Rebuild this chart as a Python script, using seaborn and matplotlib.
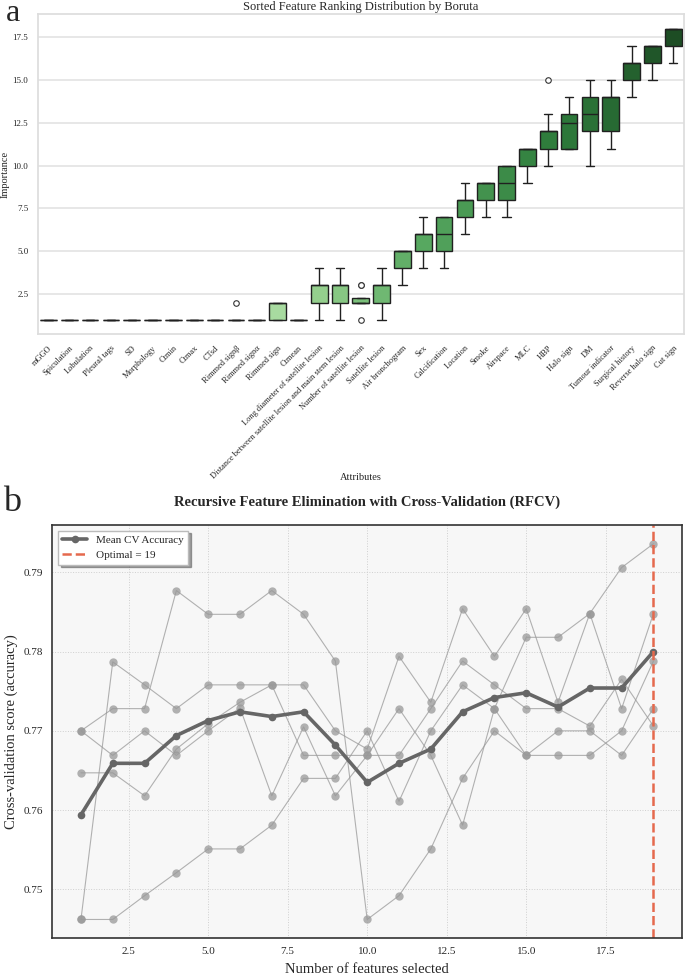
import numpy as np
import pandas as pd
import matplotlib
matplotlib.use("Agg")
import matplotlib.pyplot as plt
from matplotlib.colors import LinearSegmentedColormap
import seaborn as sns

# ---------------- data: panel a ----------------
features = ["mGGO", "Spiculation", "Lobulation", "Pleural tags", "SD", "Morphology",
            "Ctmin", "Ctmax", "CTsd", "Rimmed signβ", "Rimmed signα", "Rimmed sign",
            "Ctmean", "Long diameter of satellite lesion",
            "Distance between satellite lesion and main stem lesion",
            "Number of satellite lesion", "Satellite lesion", "Air bronchogram", "Sex",
            "Calcification", "Location", "Smoke", "Airspace", "MLC", "HBP", "Halo sign",
            "DM", "Tumour indicator", "Surgical history", "Reverse halo sign", "Cut sign"]

rank_samples = [
    [1, 1, 1, 1, 1, 1, 1, 1],
    [1, 1, 1, 1, 1, 1, 1, 1],
    [1, 1, 1, 1, 1, 1, 1, 1],
    [1, 1, 1, 1, 1, 1, 1, 1],
    [1, 1, 1, 1, 1, 1, 1, 1],
    [1, 1, 1, 1, 1, 1, 1, 1],
    [1, 1, 1, 1, 1, 1, 1, 1],
    [1, 1, 1, 1, 1, 1, 1, 1],
    [1, 1, 1, 1, 1, 1, 1, 1],
    [1, 1, 1, 1, 1, 1, 1, 2],
    [1, 1, 1, 1, 1, 1, 1, 1],
    [1, 1, 1, 2, 2, 2, 2, 2],
    [1, 1, 1, 1, 1, 1, 1, 1],
    [1, 2, 2, 3, 3, 3, 3, 4],
    [1, 2, 2, 3, 3, 3, 3, 4],
    [1, 2, 2, 2, 2, 2, 3, 3],
    [1, 2, 2, 3, 3, 3, 3, 4],
    [3, 4, 4, 5, 5, 5, 5, 5],
    [4, 5, 5, 6, 6, 6, 6, 7],
    [4, 5, 5, 6, 6, 7, 7, 7],
    [6, 7, 7, 8, 8, 8, 8, 9],
    [7, 8, 8, 9, 9, 9, 9, 9],
    [7, 8, 8, 9, 9, 10, 10, 10],
    [9, 10, 10, 11, 11, 11, 11, 11],
    [10, 11, 11, 11, 12, 12, 12, 13, 15],
    [11, 11, 11, 12, 13, 13, 13, 14],
    [10, 12, 12, 13, 13, 14, 14, 15],
    [11, 12, 12, 14, 14, 14, 14, 15],
    [14, 15, 15, 16, 16, 16, 16, 17],
    [15, 16, 16, 17, 17, 17, 17, 17],
    [16, 17, 17, 18, 18, 18, 18, 18],
]

# ---------------- data: panel b ----------------
n_features = list(range(1, 20))
fold1 = [0.7700, 0.7728, 0.7728, 0.7877, 0.7847, 0.7847, 0.7877, 0.7847, 0.7788, 0.7462,
         0.7492, 0.7551, 0.7640, 0.7700, 0.7669, 0.7700, 0.7700, 0.7669, 0.7728]
fold2 = [0.7700, 0.7669, 0.7700, 0.7669, 0.7700, 0.7729, 0.7618, 0.7705, 0.7618, 0.7669,
         0.7728, 0.7669, 0.7581, 0.7728, 0.7818, 0.7818, 0.7848, 0.7906, 0.7936]
fold3 = [0.7647, 0.7647, 0.7618, 0.7677, 0.7709, 0.7736, 0.7758, 0.7669, 0.7669, 0.7669,
         0.7669, 0.7728, 0.7788, 0.7758, 0.7728, 0.7728, 0.7706, 0.7765, 0.7706]
fold4 = [0.7462, 0.7462, 0.7492, 0.7521, 0.7551, 0.7551, 0.7581, 0.7640, 0.7640, 0.7700,
         0.7611, 0.7700, 0.7758, 0.7728, 0.7669, 0.7669, 0.7669, 0.7700, 0.7788]
fold5 = [0.7462, 0.7787, 0.7758, 0.7728, 0.7758, 0.7758, 0.7758, 0.7758, 0.7700, 0.7677,
         0.7794, 0.7736, 0.7854, 0.7794, 0.7854, 0.7736, 0.7848, 0.7728, 0.7848]
mean_scores = [0.7594, 0.7659, 0.7659, 0.7694, 0.7713, 0.7724, 0.7718, 0.7724, 0.7682, 0.7635,
               0.7659, 0.7677, 0.7724, 0.7742, 0.7748, 0.7730, 0.7754, 0.7754, 0.7800]
optimal_n = 19

# ---------------- build tables ----------------
rows = []
for f, vals in zip(features, rank_samples):
    for v in vals:
        rows.append((f, v))
df_rank = pd.DataFrame(rows, columns=["Attributes", "Importance"])

fold_rows = []
for k, fold in enumerate([fold1, fold2, fold3, fold4, fold5]):
    for n, s in zip(n_features, fold):
        fold_rows.append((k, n, s))
df_folds = pd.DataFrame(fold_rows, columns=["fold", "n", "score"])
df_mean = pd.DataFrame({"n": n_features, "score": mean_scores})

# ---------------- figure ----------------
sns.set_theme(style="whitegrid")
serif = ["Liberation Serif", "DejaVu Serif"]
plt.rcParams["font.family"] = serif

fig = plt.figure(figsize=(6.85, 9.8), dpi=100)

# ----- panel a -----
ax1 = fig.add_axes([0.0555, 0.659, 0.9425, 0.3265])
green_cmap = LinearSegmentedColormap.from_list(
    "boruta_greens",
    [(0.0, "#eef8ea"), (11 / 30, "#a8dba0"), (13 / 30, "#93cf8c"),
     (18 / 30, "#57a860"), (24 / 30, "#2f7d3c"), (27 / 30, "#276b33"),
     (1.0, "#1d4d24")])
pal = [green_cmap(i / (len(features) - 1)) for i in range(len(features))]
sns.boxplot(data=df_rank, x="Attributes", y="Importance", order=features,
            hue="Attributes", hue_order=features, palette=pal, legend=False,
            saturation=1, width=0.8, linewidth=1.0, ax=ax1,
            flierprops=dict(marker="o", markersize=4, markerfacecolor="white",
                            markeredgecolor="#333333", markeredgewidth=0.8))
ax1.set_title("Sorted Feature Ranking Distribution by Boruta", fontsize=9, pad=3)
ax1.set_xlabel("Attributes", fontsize=7.5)
ax1.xaxis.set_label_coords(0.5, -0.435)
ax1.set_ylabel("Importance", fontsize=7.5, labelpad=2)
ax1.tick_params(axis="y", labelsize=6.5, pad=1)
ax1.tick_params(axis="x", labelsize=6, pad=1)
plt.setp(ax1.get_xticklabels(), rotation=45, ha="right", rotation_mode="anchor")
ax1.yaxis.grid(True, color="#e3e3e3", linewidth=1.2)
ax1.xaxis.grid(False)
for sp in ax1.spines.values():
    sp.set_color("#dddddd")
fig.text(0.008, 0.9785, "a", fontsize=23, family=serif, va="baseline")

# ----- panel b -----
ax2 = fig.add_axes([0.0764, 0.0426, 0.9193, 0.4217])
ax2.set_facecolor("#f7f7f7")
sns.lineplot(data=df_folds, x="n", y="score", units="fold", estimator=None,
             color="#999999", linewidth=0.8, alpha=0.75, marker="o", markersize=6,
             markeredgewidth=0, ax=ax2, legend=False)
sns.lineplot(data=df_mean, x="n", y="score", color="#666666", linewidth=2.6,
             marker="o", markersize=5.5, markeredgewidth=0, ax=ax2,
             label="Mean CV Accuracy")
ax2.axvline(optimal_n, color="#e5694d", linestyle="--", linewidth=1.8,
            label=f"Optimal = {optimal_n}")
ax2.grid(True, color="#cfcfcf", linestyle=":", linewidth=0.7)
for sp in ax2.spines.values():
    sp.set_color("#333333")
    sp.set_linewidth(1.2)
ax2.set_title("Recursive Feature Elimination with Cross-Validation (RFCV)",
              fontsize=10.5, fontweight="bold", pad=14)
ax2.set_xlabel("Number of features selected", fontsize=10.5, labelpad=5)
ax2.set_ylabel("Cross-validation score (accuracy)", fontsize=10.5, labelpad=4)
ax2.tick_params(labelsize=8, length=3, color="#333333")
ax2.set_xticks([2.5, 5.0, 7.5, 10.0, 12.5, 15.0, 17.5])
ax2.set_xticklabels(["2.5", "5.0", "7.5", "10.0", "12.5", "15.0", "17.5"])
ax2.set_yticks([0.75, 0.76, 0.77, 0.78, 0.79])
ax2.set_yticklabels(["0.75", "0.76", "0.77", "0.78", "0.79"])
leg = ax2.legend(loc="upper left", fontsize=8, frameon=True, shadow=True,
                 fancybox=False, framealpha=1, edgecolor="#bbbbbb",
                 handlelength=2.2)
fig.text(0.005, 0.479, "b", fontsize=26, family=serif, va="baseline")

fig.savefig("out.png", dpi=100)
